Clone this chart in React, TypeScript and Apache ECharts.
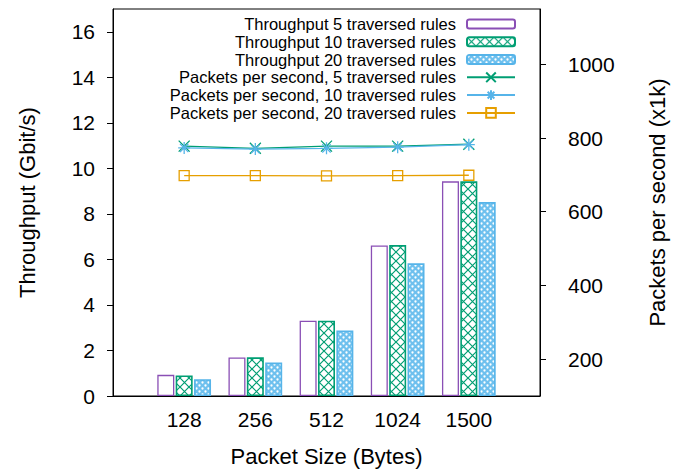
import React, { useEffect, useRef } from "react";
import * as echarts from "echarts";

const categories = ["128", "256", "512", "1024", "1500"];
const thr5 = [0.93, 1.69, 3.31, 6.61, 9.43];
const thr10 = [0.9, 1.7, 3.31, 6.63, 9.43];
const thr20 = [0.74, 1.47, 2.88, 5.83, 8.52];
const pps5 = [778, 772, 778, 778, 783];
const pps10 = [773, 770, 772, 775, 782];
const pps20 = [698, 698, 697, 698, 699];
const leftTicks = [0, 2, 4, 6, 8, 10, 12, 14, 16];
const rightTicks = [200, 400, 600, 800, 1000];
const seriesNames = [
  "Throughput 5 traversed rules",
  "Throughput 10 traversed rules",
  "Throughput 20 traversed rules",
  "Packets per second, 5 traversed rules",
  "Packets per second, 10 traversed rules",
  "Packets per second, 20 traversed rules",
];

const PURPLE = "#8a4fb5";
const GREEN = "#009e73";
const BLUE = "#56b4e9";
const ORANGE = "#e69f00";
const FONT = "Liberation Sans";
const ROW = 17.8;

function pad<T>(arr: T[]): (T | null)[] {
  return [null, ...arr, null];
}

function greenPattern(): HTMLCanvasElement {
  const c = document.createElement("canvas");
  const s = 9;
  c.width = s;
  c.height = s;
  const ctx = c.getContext("2d")!;
  ctx.fillStyle = "#ffffff";
  ctx.fillRect(0, 0, s, s);
  ctx.strokeStyle = GREEN;
  ctx.lineWidth = 1.2;
  for (const k of [-s, 0, s]) {
    ctx.beginPath();
    ctx.moveTo(k, 0);
    ctx.lineTo(k + s, s);
    ctx.moveTo(k + s, 0);
    ctx.lineTo(k, s);
    ctx.stroke();
  }
  return c;
}

function bluePattern(): HTMLCanvasElement {
  const c = document.createElement("canvas");
  const s = 6;
  c.width = s;
  c.height = s;
  const ctx = c.getContext("2d")!;
  ctx.fillStyle = "#6ec0ee";
  ctx.fillRect(0, 0, s, s);
  ctx.fillStyle = "#ffffff";
  for (const [x, y] of [
    [1.5, 1.5],
    [4.5, 4.5],
  ]) {
    ctx.beginPath();
    ctx.arc(x, y, 1.15, 0, Math.PI * 2);
    ctx.fill();
  }
  return c;
}

const xSym = "path://M0,0L10,10M10,0L0,10";
const starSym =
  "path://M0,5L10,5M5,0L5,10M1.5,1.5L8.5,8.5M8.5,1.5L1.5,8.5";
const sqSym = "path://M0,0L10,0L10,10L0,10Z";

export default function App() {
  const ref = useRef<HTMLDivElement>(null);
  useEffect(() => {
    if (!ref.current) return;
    const chart = echarts.init(ref.current, undefined, { renderer: "svg" });
    const gp = greenPattern();
    const bp = bluePattern();
    const axisCats = ["", ...categories, ""];
    const barCommon = {
      type: "bar" as const,
      barWidth: 17,
      barGap: "8%",
      xAxisIndex: 0,
      yAxisIndex: 0,
    };
    const lineCommon = {
      type: "line" as const,
      xAxisIndex: 0,
      yAxisIndex: 1,
      showAllSymbol: true,
    };
    const legendText = {
      fontFamily: FONT,
      fontSize: 16.5,
      color: "#000",
      lineHeight: ROW,
      padding: [0, 6, 0, 0],
    };
    chart.setOption({
      animation: false,
      backgroundColor: "#ffffff",
      textStyle: { fontFamily: FONT },
      grid: {
        left: 113,
        right: 141,
        top: 9,
        bottom: 74,
        show: true,
        borderColor: "#000",
        borderWidth: 1,
        backgroundColor: "transparent",
      },
      legend: [
        {
          orient: "vertical",
          right: 165,
          top: 15,
          padding: 0,
          align: "right",
          itemWidth: 48,
          itemHeight: 9,
          itemGap: 0,
          textStyle: legendText,
          data: seriesNames.slice(0, 3),
        },
        {
          orient: "vertical",
          right: 165,
          top: 15 + 3 * ROW,
          padding: 0,
          align: "right",
          itemWidth: 48,
          itemHeight: 12,
          itemGap: 0,
          textStyle: legendText,
          data: seriesNames.slice(3),
        },
      ],
      xAxis: {
        type: "category",
        data: axisCats,
        boundaryGap: false,
        axisLine: { show: true, lineStyle: { color: "#000", width: 1 } },
        axisTick: { show: false },
        axisLabel: {
          fontFamily: FONT,
          fontSize: 21,
          color: "#000",
          margin: 13,
          interval: 0,
        },
        name: "Packet Size (Bytes)",
        nameLocation: "middle",
        nameGap: 49,
        nameTextStyle: { fontFamily: FONT, fontSize: 22, color: "#000" },
        splitLine: { show: false },
      },
      yAxis: [
        {
          type: "value",
          min: 0,
          max: 17,
          position: "left",
          axisLine: { show: true, lineStyle: { color: "#000", width: 1 } },
          axisTick: {
            show: true,
            inside: false,
            length: 6,
            customValues: leftTicks,
            lineStyle: { color: "#000" },
          },
          axisLabel: {
            fontFamily: FONT,
            fontSize: 21,
            color: "#000",
            margin: 18,
            customValues: leftTicks,
            formatter: (v: number) => String(v),
          },
          splitLine: { show: false },
          name: "Throughput (Gbit/s)",
          nameLocation: "middle",
          nameRotate: 90,
          nameGap: 75,
          nameTextStyle: { fontFamily: FONT, fontSize: 22, color: "#000" },
        },
        {
          type: "value",
          min: 100,
          max: 1150,
          position: "right",
          axisLine: { show: true, lineStyle: { color: "#000", width: 1 } },
          axisTick: {
            show: true,
            inside: false,
            length: 6,
            customValues: rightTicks,
            lineStyle: { color: "#000" },
          },
          axisLabel: {
            fontFamily: FONT,
            fontSize: 21,
            color: "#000",
            margin: 28,
            customValues: rightTicks,
            formatter: (v: number) => String(v),
          },
          splitLine: { show: false },
          name: "Packets per second (x1k)",
          nameLocation: "middle",
          nameRotate: 90,
          nameGap: 106,
          nameTextStyle: { fontFamily: FONT, fontSize: 22, color: "#000" },
        },
      ],
      series: [
        {
          ...barCommon,
          name: seriesNames[0],
          data: pad(thr5),
          itemStyle: { color: "#ffffff", borderColor: PURPLE, borderWidth: 1.3 },
        },
        {
          ...barCommon,
          name: seriesNames[1],
          data: pad(thr10),
          itemStyle: {
            color: { image: gp, repeat: "repeat" },
            borderColor: GREEN,
            borderWidth: 1.6,
          },
        },
        {
          ...barCommon,
          name: seriesNames[2],
          data: pad(thr20),
          itemStyle: {
            color: { image: bp, repeat: "repeat" },
            borderColor: BLUE,
            borderWidth: 1.6,
          },
        },
        {
          ...lineCommon,
          name: seriesNames[3],
          data: pad(pps5),
          symbol: xSym,
          symbolSize: 11,
          lineStyle: { color: GREEN, width: 1.3 },
          itemStyle: { color: "rgba(0,0,0,0)", borderColor: GREEN, borderWidth: 1.3 },
        },
        {
          ...lineCommon,
          name: seriesNames[4],
          data: pad(pps10),
          symbol: starSym,
          symbolSize: 12,
          lineStyle: { color: BLUE, width: 1.3 },
          itemStyle: { color: "rgba(0,0,0,0)", borderColor: BLUE, borderWidth: 1.3 },
        },
        {
          ...lineCommon,
          name: seriesNames[5],
          data: pad(pps20),
          symbol: sqSym,
          symbolSize: 10,
          lineStyle: { color: ORANGE, width: 1.3 },
          itemStyle: { color: "rgba(0,0,0,0)", borderColor: ORANGE, borderWidth: 1.3 },
        },
      ],
    });
    return () => chart.dispose();
  }, []);
  return (
    <div
      ref={ref}
      style={{ position: "absolute", left: 0, top: 0, width: 681, height: 472 }}
    />
  );
}
